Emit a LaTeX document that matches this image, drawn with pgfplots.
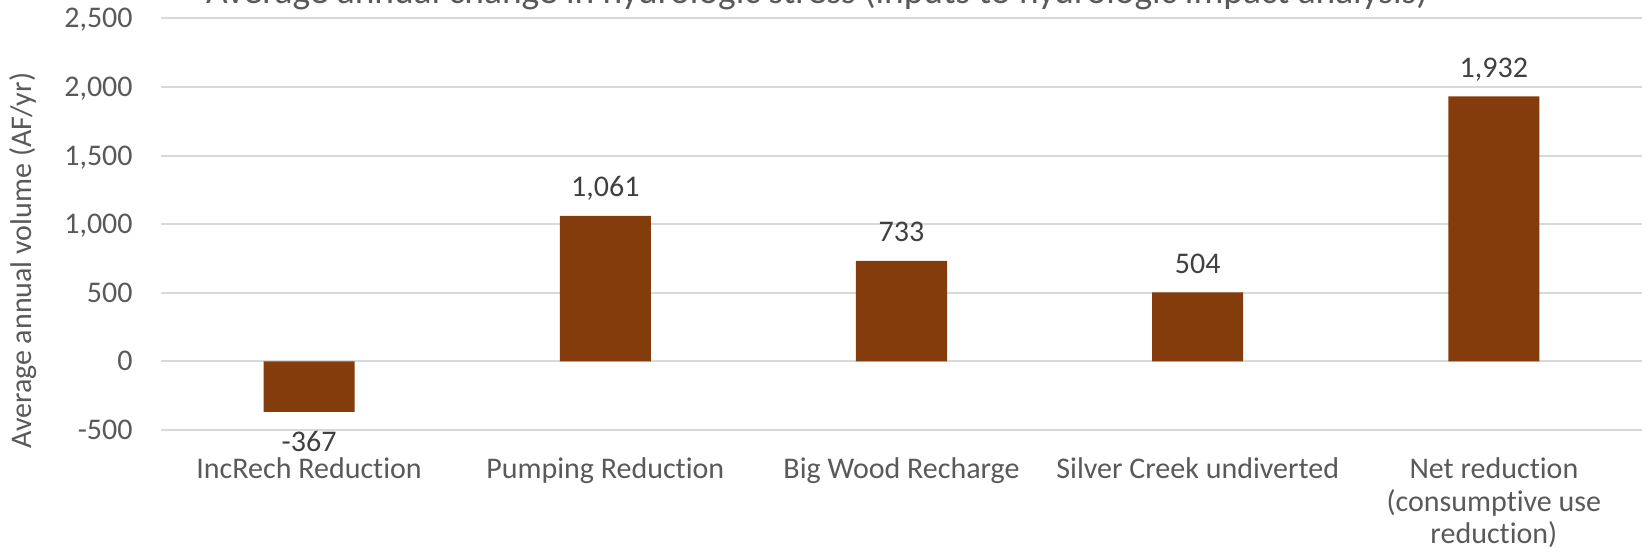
\documentclass[border=0pt]{standalone}
\usepackage{pgfplots}
\pgfplotsset{compat=1.18}
\usepackage{fontspec}
\setmainfont{Carlito}[Ligatures=CommonOff]
\definecolor{barc}{HTML}{843C0C}
\definecolor{txt}{HTML}{595959}
\definecolor{lbl}{HTML}{404040}
\definecolor{grd}{HTML}{D9D9D9}
\begin{document}
\begin{tikzpicture}
\begin{axis}[
  at={(0,0)}, anchor=south west,
  scale only axis, width=740.5pt, height=205.75pt,
  xmin=-0.5, xmax=4.5, ymin=-500, ymax=2500,
  ytick={-500,0,500,1000,1500,2000,2500},
  xtick=data,
  xticklabels={IncRech Reduction, Pumping Reduction, Big Wood Recharge, Silver Creek undiverted, {Net reduction\\(consumptive use\\reduction)}},
  /pgf/number format/assume math mode=true,
  /pgf/number format/1000 sep={,},
  major tick length=0pt,
  axis line style={draw=none},
  ymajorgrids, grid style={grd, line width=1pt},
  tick label style={font=\fontsize{15}{16.4}\selectfont, text=txt, inner sep=0pt},
  yticklabel style={anchor=east, xshift=-14pt, text height=9.5pt, text depth=0pt},
  xticklabel style={anchor=north, align=center, yshift=-13.5pt},
  ylabel={Average annual volume (AF/yr)},
  every axis y label/.style={at={(axis description cs:-0.0932,0.411)}, rotate=90, anchor=center, font=\fontsize{15}{18}\selectfont, text=txt},
  ybar, bar width=45.5pt,
  nodes near coords,
  visualization depends on={rawy \as \rawy},
  every node near coord/.append style={font=\fontsize{15}{18}\selectfont, text=lbl, inner sep=0pt, anchor=base, yshift={ifthenelse(\rawy<0,-20,9.5)}},
]
\addplot[fill=barc, draw=none] coordinates {(0,-367) (1,1061) (2,733) (3,504) (4,1932)};
\end{axis}
\node[anchor=base, font=\fontsize{18.7}{22}\selectfont, text=txt] at (328pt,213pt) {Average annual change in hydrologic stress (inputs to hydrologic impact analysis)};
\pgfresetboundingbox
\useasboundingbox (-80.5pt,-62.5pt) rectangle (744pt,215pt);
\end{tikzpicture}
\end{document}
